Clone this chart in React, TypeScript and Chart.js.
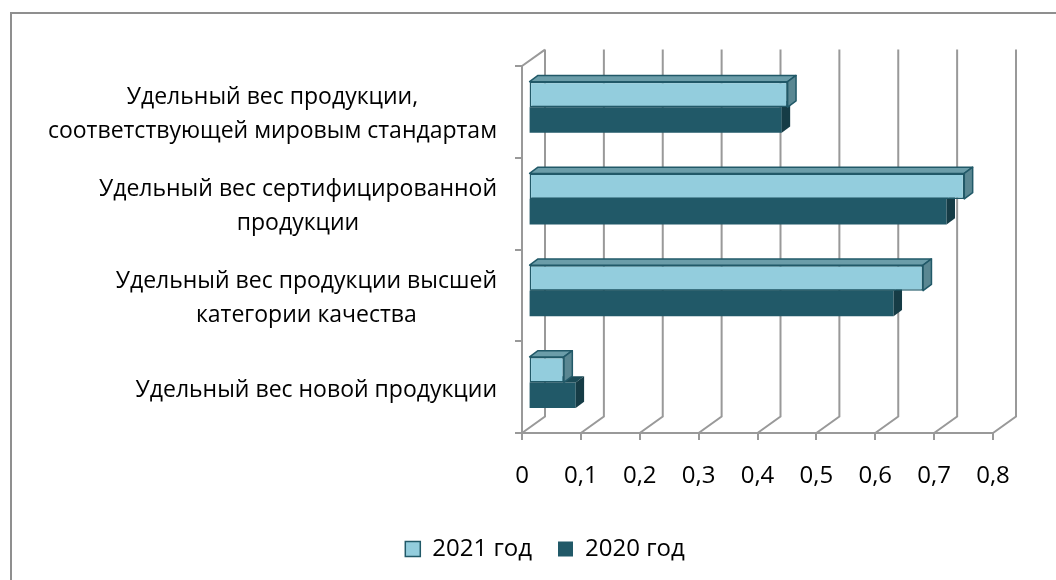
import React, { useEffect, useRef } from 'react';
import { Chart, registerables } from 'chart.js';

Chart.register(...registerables);

// ---------- data ----------
const categories: string[][] = [
  ['Удельный вес продукции,', 'соответствующей мировым стандартам'],
  ['Удельный вес сертифицированной', 'продукции'],
  ['Удельный вес продукции высшей', 'категории качества'],
  ['Удельный вес новой продукции'],
];
const seriesNames = ['2021 год', '2020 год'];
const values2021 = [0.44, 0.74, 0.67, 0.06];
const values2020 = [0.43, 0.71, 0.62, 0.08];
const xMin = 0;
const xMax = 0.8;
const xStep = 0.1;

// ---------- styles ----------
const FONT = '"Open Sans", "DejaVu Sans", sans-serif';
const FONT_SIZE = 24;
const LABEL_FONT_SIZE = 23;
const GRID = '#999999';
const LIGHT = '#93CDDD';
const DARK = '#215968';
const faceStyles = [
  { top: '#6B9DA9', side: '#5A8792', stroke: DARK as string | null, lw: 1.5 },
  { top: '#1B4B57', side: '#163C46', stroke: null as string | null, lw: 0 },
];

// 3D geometry (pixels)
const DX = 23;
const DY = -16.4;
const BSX = 6.6;
const BSY = -4.7;
const BDX = 8.4;
const BDY = -6.2;

const fmt = (v: number) => (Math.abs(v) < 1e-9 ? '0' : (Math.round(v * 10) / 10).toString().replace('.', ','));

const threeD = {
  id: 'threeD',
  beforeDraw(chart: any) {
    const ctx = chart.ctx;
    ctx.save();
    ctx.fillStyle = '#ffffff';
    ctx.fillRect(0, 0, chart.width, chart.height);
    ctx.strokeStyle = '#8f8f8f';
    ctx.lineWidth = 2;
    ctx.strokeRect(11, 13, chart.width + 50, chart.height + 50);
    ctx.restore();
  },
  beforeDatasetsDraw(chart: any) {
    const { ctx, chartArea, scales } = chart;
    const { left, top, bottom } = chartArea;
    const xs = scales.x;
    ctx.save();
    ctx.strokeStyle = GRID;
    ctx.lineWidth = 2;
    ctx.beginPath();
    ctx.moveTo(left, top);
    ctx.lineTo(left + DX, top + DY);
    xs.ticks.forEach((t: any) => {
      const fx = xs.getPixelForValue(t.value);
      ctx.moveTo(fx, bottom);
      ctx.lineTo(fx + DX, bottom + DY);
      ctx.lineTo(fx + DX, top + DY);
    });
    ctx.stroke();
    ctx.restore();
  },
  beforeDatasetDraw(chart: any) {
    chart.ctx.save();
    chart.ctx.translate(BSX, BSY);
  },
  afterDatasetDraw(chart: any, args: any) {
    const ctx = chart.ctx;
    const st = faceStyles[args.index];
    args.meta.data.forEach((el: any) => {
      const { x, y, base, height } = el.getProps(['x', 'y', 'base', 'height'], true);
      const t = y - height / 2;
      const b = y + height / 2;
      ctx.lineJoin = 'round';
      // top face
      ctx.beginPath();
      ctx.moveTo(base, t);
      ctx.lineTo(x, t);
      ctx.lineTo(x + BDX, t + BDY);
      ctx.lineTo(base + BDX, t + BDY);
      ctx.closePath();
      ctx.fillStyle = st.top;
      ctx.fill();
      if (st.stroke) {
        ctx.strokeStyle = st.stroke;
        ctx.lineWidth = st.lw;
        ctx.stroke();
      }
      // side face
      ctx.beginPath();
      ctx.moveTo(x, t);
      ctx.lineTo(x + BDX, t + BDY);
      ctx.lineTo(x + BDX, b + BDY);
      ctx.lineTo(x, b);
      ctx.closePath();
      ctx.fillStyle = st.side;
      ctx.fill();
      if (st.stroke) {
        ctx.strokeStyle = st.stroke;
        ctx.lineWidth = st.lw;
        ctx.stroke();
      }
    });
    ctx.restore();
  },
  afterDraw(chart: any) {
    const { ctx, chartArea, scales } = chart;
    const ys = scales.y;
    const right = chartArea.left - 25;
    const lineH = 34;
    ctx.save();
    ctx.font = `${LABEL_FONT_SIZE}px ${FONT}`;
    ctx.fillStyle = '#000000';
    ctx.textAlign = 'center';
    ctx.textBaseline = 'middle';
    categories.forEach((lines, i) => {
      const cy = ys.getPixelForValue(i) + 3;
      const w = Math.max(...lines.map((l) => ctx.measureText(l).width));
      const cx = right - w / 2;
      const y0 = cy - ((lines.length - 1) * lineH) / 2;
      lines.forEach((l, j) => ctx.fillText(l, cx, y0 + j * lineH));
    });
    ctx.restore();
  },
};

export default function App() {
  const ref = useRef<HTMLCanvasElement | null>(null);
  useEffect(() => {
    if (!ref.current) return;
    const chart = new Chart(ref.current, {
      type: 'bar',
      data: {
        labels: categories.map((c) => c.join(' ')),
        datasets: [
          {
            label: seriesNames[0],
            data: values2021,
            backgroundColor: LIGHT,
            borderColor: DARK,
            borderWidth: 1.5,
            borderSkipped: false,
            clip: false as any,
          },
          {
            label: seriesNames[1],
            data: values2020,
            backgroundColor: DARK,
            borderColor: DARK,
            borderWidth: 0,
            clip: false as any,
          },
        ],
      },
      options: {
        indexAxis: 'y',
        responsive: false,
        animation: false,
        events: [],
        categoryPercentage: 0.556,
        barPercentage: 1,
        layout: { padding: { left: 97, right: 63, top: 66, bottom: 9 } },
        scales: {
          x: {
            type: 'linear',
            position: 'bottom',
            min: xMin,
            max: xMax,
            ticks: {
              stepSize: xStep,
              color: '#000000',
              font: { family: FONT, size: FONT_SIZE },
              padding: 22,
              callback: (v: any) => fmt(Number(v)),
            },
            grid: { drawOnChartArea: false, drawTicks: true, tickLength: 7, color: GRID, lineWidth: 2 },
            border: { display: true, color: GRID, width: 2 },
            afterFit: (s: any) => {
              s.height = 78;
            },
          },
          y: {
            type: 'category',
            position: 'left',
            ticks: { display: false },
            grid: { offset: true, drawOnChartArea: false, drawTicks: true, tickLength: 7, color: GRID, lineWidth: 2 },
            border: { display: true, color: GRID, width: 2 },
            afterFit: (s: any) => {
              s.width = 425;
            },
          },
        },
        plugins: {
          legend: {
            position: 'bottom',
            labels: {
              boxWidth: 15,
              boxHeight: 15,
              padding: 26,
              color: '#000000',
              font: { family: FONT, size: FONT_SIZE },
            },
          },
          tooltip: { enabled: false },
          title: { display: false },
        },
      } as any,
      plugins: [threeD],
    });
    return () => chart.destroy();
  }, []);
  return (
    <div style={{ position: 'fixed', left: 0, top: 0, width: 1056, height: 580, background: '#fff' }}>
      <canvas ref={ref} width={1056} height={580} style={{ display: 'block', width: 1056, height: 580 }} />
    </div>
  );
}
